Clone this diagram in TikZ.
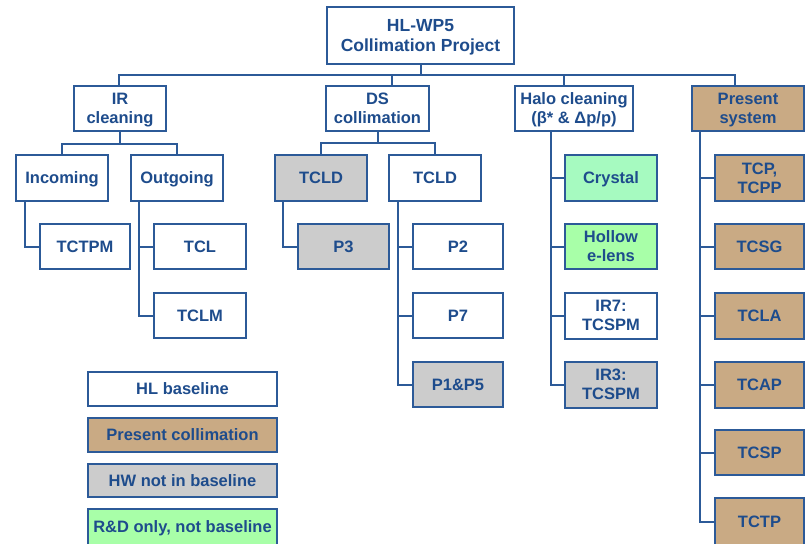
\documentclass[tikz,border=0pt]{standalone}
\usepackage{fontspec}
\setmainfont{Liberation Sans}
\definecolor{linec}{RGB}{44,90,152}
\definecolor{textc}{RGB}{30,76,140}
\definecolor{brownc}{RGB}{201,170,132}
\definecolor{grayc}{RGB}{204,204,204}
\definecolor{greenc}{RGB}{168,255,168}
\definecolor{mintc}{RGB}{166,250,192}
\begin{document}
\begin{tikzpicture}[x=1pt,y=-1pt,
  box/.style={draw=linec, line width=2pt, fill=white, text=textc,
    inner sep=0pt, outer sep=0pt, align=center,
    text height=11.8pt, text depth=0pt,
    font=\fontsize{16.5}{19}\selectfont\bfseries},
  two/.style={text height=30.8pt, text depth=0pt},
  conn/.style={draw=linec, line width=2pt},
  present/.style={box, fill=brownc},
  hwonly/.style={box, fill=grayc},
  rdonly/.style={box, fill=greenc},
  leaf/.style={minimum width=92pt, minimum height=45pt},
  legend/.style={minimum width=189pt, minimum height=34pt}]
\useasboundingbox (0,0) rectangle (805,543);

% root
\node[box, minimum width=187pt, minimum height=57pt, text height=32.5pt,
      font=\fontsize{17.5}{20}\selectfont\bfseries] (root) at (420.5,35.5)
      {HL-WP5\\Collimation Project};

% second level
\node[box, two, minimum width=92pt, minimum height=45pt] (ir) at (120,108.5) {IR\\cleaning};
\node[box, two, minimum width=103pt, minimum height=45pt] (ds) at (377.5,108.5) {DS\\collimation};
\node[box, two, minimum width=118pt, minimum height=45pt] (halo) at (574,108.5) {Halo cleaning\\(β* \& Δp/p)};
\node[present, two, minimum width=112pt, minimum height=45pt] (pres) at (748,108.5) {Present\\system};

% IR cleaning branch
\node[box, leaf, minimum height=46pt] (inc) at (62,178) {Incoming};
\node[box, leaf, minimum height=46pt] (out) at (177,178) {Outgoing};
\node[box, leaf, minimum width=90pt] (tctpm) at (85,246.5) {TCTPM};
\node[box, leaf] (tcl) at (200,246.5) {TCL};
\node[box, leaf] (tclm) at (200,315.5) {TCLM};

% DS collimation branch
\node[hwonly, leaf, minimum height=46pt] (tcldg) at (321,178) {TCLD};
\node[box, leaf, minimum height=46pt] (tcldw) at (435,178) {TCLD};
\node[hwonly, leaf, minimum width=91pt] (p3) at (343.5,246.5) {P3};
\node[box, leaf, minimum width=90pt] (p2) at (458,246.5) {P2};
\node[box, leaf, minimum width=90pt] (p7) at (458,315.5) {P7};
\node[hwonly, leaf, minimum width=90pt] (p15) at (458,384.5) {P1\&P5};

% halo cleaning branch
\node[box, leaf, fill=mintc, minimum height=46pt] (crys) at (611,178) {Crystal};
\node[rdonly, two, leaf] (hel) at (611,246.5) {Hollow\\e-lens};
\node[box, two, leaf, minimum height=46pt] (ir7) at (611,315.5) {IR7:\\TCSPM};
\node[hwonly, two, leaf, minimum height=46pt] (ir3) at (611,384.5) {IR3:\\TCSPM};

% present system branch
\node[present, two, leaf, minimum width=89pt, minimum height=46pt] (tcp) at (759.5,178) {TCP,\\TCPP};
\node[present, leaf, minimum width=89pt] (tcsg) at (759.5,246.5) {TCSG};
\node[present, leaf, minimum width=89pt, minimum height=46pt] (tcla) at (759.5,315.5) {TCLA};
\node[present, leaf, minimum width=89pt, minimum height=46pt] (tcap) at (759.5,384.5) {TCAP};
\node[present, leaf, minimum width=89pt] (tcsp) at (759.5,452.5) {TCSP};
\node[present, leaf, minimum width=89pt, minimum height=48pt] (tctp) at (759.5,522) {TCTP};

% legend
\node[box, legend] (lgbase) at (182.5,389) {HL baseline};
\node[present, legend] (lgpres) at (182.5,435) {Present collimation};
\node[hwonly, legend, minimum height=33pt] (lghw) at (182.5,480.5) {HW not in baseline};
\node[rdonly, legend, minimum height=36pt] (lgrd) at (182.5,527) {R\&D only, not baseline};

% top bus
\coordinate (busL) at (119,75);
\coordinate (busR) at (735,75);
\coordinate (busDS) at (392,75);
\coordinate (busHalo) at (564,75);
\draw[conn] (ir.north -| busL) -- (busL) -- (busR) -- (pres.north -| busR);
\draw[conn] (root.south) -- (root.south |- busL);
\draw[conn] (busDS) -- (ds.north -| busDS);
\draw[conn] (busHalo) -- (halo.north -| busHalo);

% IR cleaning connectors
\coordinate (irbus) at (120,144);
\draw[conn] (ir.south) -- (irbus);
\draw[conn] (inc.north) |- (irbus) -| (out.north);
\draw[conn] ([xshift=9pt]inc.south west) |- (tctpm.west);
\draw[conn] ([xshift=8pt]out.south west) |- (tclm.west);
\draw[conn] ([xshift=8pt]out.south west |- tcl.west) -- (tcl.west);

% DS collimation connectors
\coordinate (dsbus) at (378,143);
\draw[conn] (ds.south -| dsbus) -- (dsbus);
\draw[conn] (tcldg.north) |- (dsbus) -| (tcldw.north);
\draw[conn] ([xshift=8pt]tcldg.south west) |- (p3.west);
\draw[conn] ([xshift=9pt]tcldw.south west) |- (p15.west);
\draw[conn] ([xshift=9pt]tcldw.south west |- p2.west) -- (p2.west);
\draw[conn] ([xshift=9pt]tcldw.south west |- p7.west) -- (p7.west);

% halo cleaning connectors
\draw[conn] ([xshift=36pt]halo.south west) |- (ir3.west);
\foreach \n in {crys,hel,ir7}
  \draw[conn] ([xshift=36pt]halo.south west |- \n.west) -- (\n.west);

% present system connectors
\draw[conn] ([xshift=8pt]pres.south west) |- (tctp.west);
\foreach \n in {tcp,tcsg,tcla,tcap,tcsp}
  \draw[conn] ([xshift=8pt]pres.south west |- \n.west) -- (\n.west);
\end{tikzpicture}
\end{document}
